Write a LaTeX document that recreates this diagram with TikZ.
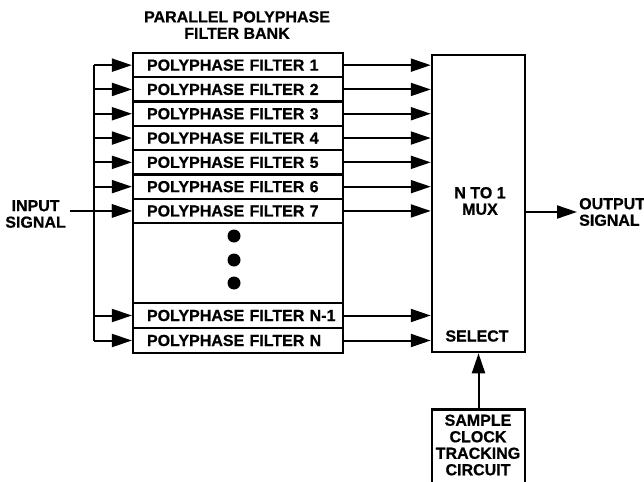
\documentclass[tikz,border=0pt]{standalone}
\usepackage{fontspec}
\setmainfont[BoldFeatures={FakeBold=0.8}]{Liberation Sans}
\usetikzlibrary{arrows.meta}
\newcommand\dgfont{\bfseries\fontsize{16}{16.5}\selectfont}
\tikzset{
  lbl/.style={font=\dgfont, inner sep=0pt, align=center},
  rowbox/.style={draw, line width=2.2pt, minimum width=210pt, minimum height=24.3pt,
    text width=182pt, align=left, inner xsep=14pt, inner ysep=0pt, font=\dgfont},
  bigbox/.style={draw, line width=2.5pt, inner sep=0pt},
  conn/.style={line width=2pt},
  arr/.style={line width=2pt, -{Triangle[length=20pt,width=13pt]}},
  dotc/.style={circle, fill=black, minimum size=13pt, inner sep=0pt},
}
\begin{document}
\begin{tikzpicture}[x=1pt,y=-1pt]
\useasboundingbox (0,0) rectangle (644,481);
\clip (0,0) rectangle (644,481);
% title
\node[lbl] (title) at (237,25) {\dgfont\baselineskip=17pt PARALLEL POLYPHASE\\FILTER BANK};
% filter rows
\node[rowbox] (f1) at (238,65.15) {\dgfont\mbox{POLYPHASE FILTER 1}};
\node[rowbox] (f2) at (238,89.45) {\dgfont\mbox{POLYPHASE FILTER 2}};
\node[rowbox] (f3) at (238,113.75) {\dgfont\mbox{POLYPHASE FILTER 3}};
\node[rowbox] (f4) at (238,138.05) {\dgfont\mbox{POLYPHASE FILTER 4}};
\node[rowbox] (f5) at (238,162.35) {\dgfont\mbox{POLYPHASE FILTER 5}};
\node[rowbox] (f6) at (238,186.65) {\dgfont\mbox{POLYPHASE FILTER 6}};
\node[rowbox] (f7) at (238,210.95) {\dgfont\mbox{POLYPHASE FILTER 7}};
\node[bigbox, minimum width=210pt, minimum height=80pt] (gap) at (238,263) {};
\node[rowbox, minimum height=25pt] (fm) at (238,315.5) {\dgfont\mbox{POLYPHASE FILTER N-1}};
\node[rowbox, minimum height=25pt] (fn) at (238,340.5) {\dgfont\mbox{POLYPHASE FILTER N}};
\node[bigbox, minimum width=210pt, minimum height=300pt] (bank) at (238,203) {};
% dots
\node[dotc] (d1) at (234,236) {};
\node[dotc] (d2) at (234,260) {};
\node[dotc] (d3) at (234,283) {};
% mux
\node[bigbox, minimum width=93pt, minimum height=297pt] (mux) at (478.5,203.5) {};
\node[lbl] (muxt) at (480,201) {\dgfont\baselineskip=14pt N TO 1\\MUX};
\node[lbl] (sel) at (477,336) {\dgfont SELECT};
% sample clock tracking circuit
\node[bigbox, minimum width=93pt, minimum height=100pt, anchor=north] (scb) at (478.5,408) {};
\node[lbl] (scbt) at (478,445) {\dgfont\baselineskip=16.5pt SAMPLE\\CLOCK\\TRACKING\\CIRCUIT};
% input / output labels
\node[lbl, anchor=east] (inp) at (66,214) {\dgfont\baselineskip=14pt INPUT\\SIGNAL};
\node[lbl, anchor=west, align=left] (outp) at (579,212) {\dgfont\baselineskip=14pt OUTPUT\\SIGNAL};
% bus
\coordinate (bus) at (94,0);
\coordinate (instart) at (70,210.95);
\coordinate (outend) at (577,212);
\draw[conn] (f1.west -| bus) -- (fn.west -| bus);
\foreach \i in {1,2,3,4,5,6,7,m,n}{
  \draw[arr] (f\i.west -| bus) -- (f\i.west);
  \draw[arr] (f\i.east) -- (f\i.east -| mux.west);
}
\draw[arr] (instart) -- (f7.west);
\draw[arr] (mux.east |- outend) -- (outend);
\draw[arr] (scb.north) -- (scb.north |- mux.south);
\end{tikzpicture}
\end{document}
